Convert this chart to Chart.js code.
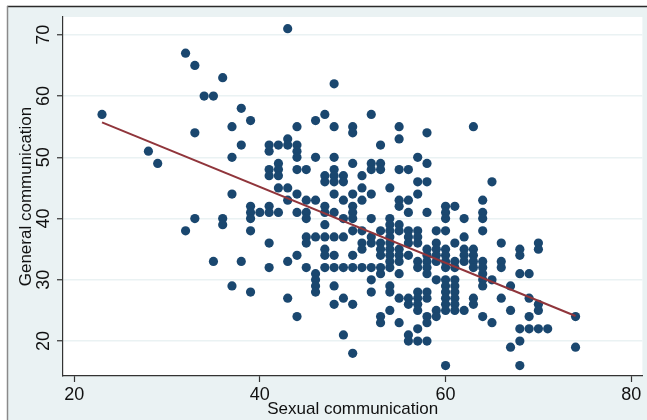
<!DOCTYPE html>
<html>
<head>
<meta charset="utf-8">
<script src="https://cdn.jsdelivr.net/npm/chart.js@4"></script>
<style>
html,body{margin:0;padding:0;background:#fff;}
canvas{display:block;}
</style>
</head>
<body>
<canvas id="c" width="647" height="420"></canvas>
<script>
// Sexual communication (x) values, one entry per column of points
const sexualComm = [23,28,29,32,33,34,35,36,37,38,39,40,41,42,43,44,45,46,47,48,49,50,51,52,53,54,55,56,57,58,59,60,61,62,63,64,65,66,67,68,69,70,71,74];
// General communication (y) values observed at each x column
const generalComm = [
  [57],
  [51],
  [49],
  [67,38],
  [65,54,40],
  [60],
  [60,33],
  [63,40,39],
  [55,50,44,29],
  [58,52,33],
  [56,42,41,40,38,28],
  [41],
  [52,51,48,47,42,41,36,32],
  [52,49,48,47,45,41],
  [71,53,52,45,43,33,27],
  [55,52,51,50,48,44,41,34,24],
  [48,43,41,40,37,36,32],
  [56,50,43,37,31,30,29,28],
  [57,47,46,42,41,39,37,35,34,32],
  [62,55,50,48,47,46,44,41,37,34,32,29,26],
  [47,46,43,40,37,32,27,21],
  [55,54,49,44,42,41,40,38,34,32,26,18],
  [47,45,43,38,36,35,32],
  [57,49,48,44,40,37,36,32,30,28],
  [52,49,48,38,36,35,34,32,31,24,23],
  [45,40,39,38,37,36,35,34,33,32,29,28,25],
  [55,53,48,43,42,39,38,35,34,33,31,27,23],
  [48,43,41,38,37,36,34,27,26,21,20],
  [50,46,44,38,37,36,33,32,28,27,26,25,22,20],
  [54,49,46,41,35,34,33,32,31,28,27,24,23,20],
  [38,36,35,34,33,30,25,24],
  [42,41,40,38,35,34,33,32,30,29,28,27,26,25,16],
  [42,36,33,32,30,29,28,27,26,25],
  [40,37,35,34,33,25],
  [55,35,34,33,32,27,26],
  [43,41,40,38,33,32,31,30,29,24],
  [46,30,23],
  [36,33,32,27],
  [29,25,19],
  [35,34,31,22,20,16],
  [31,27,24,22],
  [36,35,26,25,22],
  [22],
  [24,19]
];
// Fitted line end points
const fitX = [23, 74];
const fitY = [55.7, 24.1];
// Axis ticks
const xTicks = [20, 40, 60, 80];
const yTicks = [20, 30, 40, 50, 60, 70];

const FONT = '"Liberation Sans", Arial, Helvetica, sans-serif';
const points = sexualComm.flatMap((x, i) => generalComm[i].map(y => ({x, y})));
const fitPoints = fitX.map((x, i) => ({x, y: fitY[i]}));

const bgPlugin = {
  id: 'bg',
  beforeDraw(chart) {
    const {ctx, chartArea: a} = chart;
    ctx.save();
    ctx.fillStyle = '#ffffff';
    ctx.fillRect(0, 0, 647, 420);
    ctx.fillStyle = '#eaf2f3';
    ctx.fillRect(7, 6, 640, 414);
    ctx.fillStyle = '#ffffff';
    ctx.fillRect(a.left, a.top, a.right - a.left, a.bottom - a.top);
    ctx.strokeStyle = '#2a2a2a';
    ctx.lineWidth = 1.5;
    ctx.beginPath(); ctx.moveTo(7, 6.5); ctx.lineTo(647, 6.5); ctx.stroke();
    ctx.strokeStyle = '#8a8a8a';
    ctx.beginPath(); ctx.moveTo(7.5, 6); ctx.lineTo(7.5, 420); ctx.stroke();
    ctx.restore();
  }
};

const yLabelPlugin = {
  id: 'ylabels',
  afterDraw(chart) {
    const {ctx} = chart;
    const ys = chart.scales.y;
    ctx.save();
    ctx.fillStyle = '#111';
    ctx.font = '18px ' + FONT;
    ctx.textAlign = 'center';
    ctx.textBaseline = 'middle';
    yTicks.forEach(v => {
      const py = ys.getPixelForValue(v);
      ctx.save();
      ctx.translate(44, py);
      ctx.rotate(-Math.PI / 2);
      ctx.fillText(String(v), 0, 0);
      ctx.restore();
    });
    ctx.restore();
  }
};

new Chart(document.getElementById('c'), {
  type: 'scatter',
  data: {
    datasets: [
      {
        type: 'line',
        label: 'Fitted values',
        data: fitPoints,
        borderColor: '#90353b',
        borderWidth: 2,
        pointRadius: 0,
        fill: false,
        order: 0
      },
      {
        label: 'General communication',
        data: points,
        backgroundColor: '#1a476f',
        borderWidth: 0,
        pointRadius: 4.6,
        order: 1
      }
    ]
  },
  options: {
    responsive: false,
    animation: false,
    devicePixelRatio: 1,
    layout: {padding: {top: 17, right: 2, left: 0, bottom: 0}},
    plugins: {legend: {display: false}, tooltip: {enabled: false}},
    scales: {
      x: {
        type: 'linear',
        min: 18.8,
        max: 81.2,
        afterBuildTicks: s => { s.ticks = xTicks.map(v => ({value: v})); },
        afterFit: s => { s.height = 44; },
        grid: {drawOnChartArea: false, drawTicks: true, tickLength: 6, tickColor: '#333', tickWidth: 1.2},
        border: {display: true, color: '#333', width: 1.2},
        ticks: {color: '#111', font: {family: FONT, size: 18}, padding: 2, maxRotation: 0},
        title: {display: true, text: 'Sexual communication', color: '#111', font: {family: FONT, size: 17}, padding: {top: 0, bottom: 0}}
      },
      y: {
        type: 'linear',
        min: 14.3,
        max: 72.9,
        afterBuildTicks: s => { s.ticks = yTicks.map(v => ({value: v})); },
        afterFit: s => { s.width = 63; },
        grid: {drawOnChartArea: true, color: '#eaf2f3', lineWidth: 1.5, drawTicks: true, tickLength: 6, tickColor: '#333', tickWidth: 1.2},
        border: {display: true, color: '#333', width: 1.2},
        ticks: {display: false},
        title: {display: true, text: 'General communication', color: '#111', font: {family: FONT, size: 17}, padding: {top: 16, bottom: 0}}
      }
    }
  },
  plugins: [bgPlugin, yLabelPlugin]
});
</script>
</body>
</html>
